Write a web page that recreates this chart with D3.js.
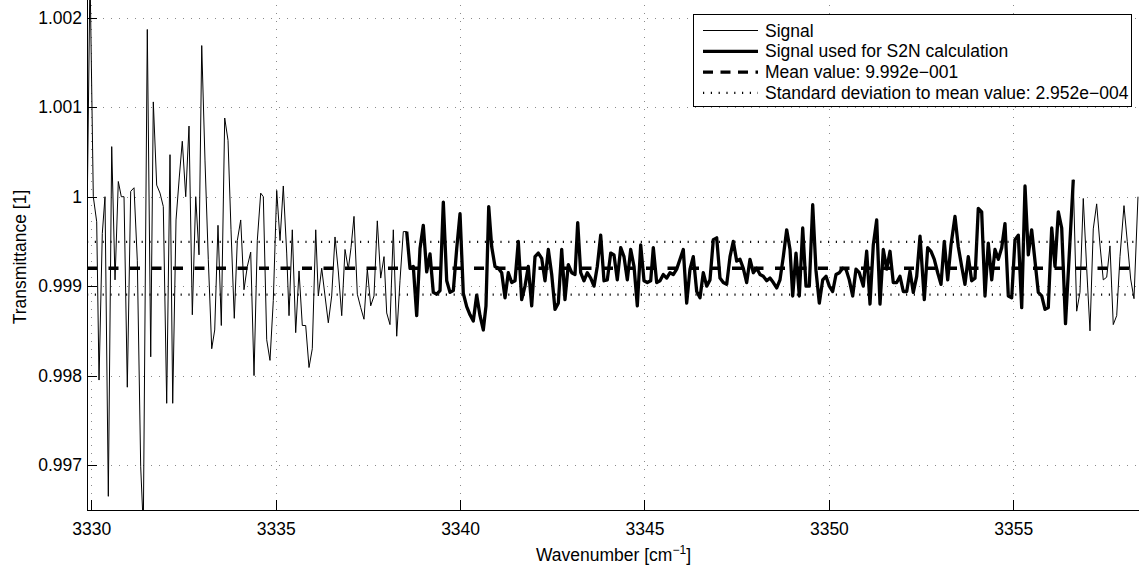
<!DOCTYPE html>
<html><head><meta charset="utf-8">
<script src="https://cdn.jsdelivr.net/npm/d3@7"></script>
<style>
body{margin:0;background:#fff}
svg{display:block}
text{font-family:"Liberation Sans",Arial,Helvetica,sans-serif;fill:#000}
</style>
</head><body>
<svg id="chart" width="1139" height="569"></svg>
<script>
// ---------------- data ----------------
const wavenumber = [
3329.892,3329.965,3330.054,3330.146,3330.209,3330.298,3330.371,3330.461,3330.553,3330.643,
3330.732,3330.813,3330.887,3330.976,3331.068,3331.158,3331.247,3331.339,3331.410,3331.518,
3331.611,3331.681,3331.773,3331.863,3331.952,3332.044,3332.134,3332.207,3332.297,3332.386,
3332.467,3332.560,3332.649,3332.739,3332.831,3332.920,3332.994,3333.083,3333.172,3333.265,
3333.346,3333.435,3333.525,3333.617,3333.707,3333.788,3333.877,3333.959,3334.051,3334.140,
3334.230,3334.322,3334.412,3334.501,3334.593,3334.664,3334.756,3334.845,3334.935,3335.027,
3335.117,3335.206,3335.298,3335.361,3335.450,3335.542,3335.632,3335.721,3335.813,3335.903,
3335.992,3336.085,3336.155,3336.247,3336.337,3336.426,3336.518,3336.608,3336.697,3336.790,
3336.879,3336.969,3337.042,3337.123,3337.213,3337.305,3337.394,3337.484,3337.576,3337.665,
3337.755,3337.847,3337.937,3338.010,3338.099,3338.189,3338.281,3338.370,3338.460,3338.552,
3338.642,3338.731,3338.823,3338.913,3339.002,3339.094,3339.184,3339.273,3339.366,3339.455,
3339.545,3339.637,3339.726,3339.816,3339.908,3339.998,3340.087,3340.179,3340.269,3340.358,
3340.450,3340.540,3340.629,3340.702,3340.776,3340.857,3340.946,3341.036,3341.128,3341.218,
3341.307,3341.399,3341.489,3341.578,3341.670,3341.760,3341.849,3341.941,3342.031,3342.120,
3342.213,3342.302,3342.392,3342.484,3342.573,3342.663,3342.755,3342.844,3342.934,3343.026,
3343.116,3343.189,3343.270,3343.359,3343.449,3343.541,3343.631,3343.720,3343.812,3343.902,
3343.991,3344.084,3344.173,3344.262,3344.355,3344.444,3344.534,3344.626,3344.716,3344.805,
3344.897,3344.987,3345.076,3345.168,3345.239,3345.331,3345.420,3345.510,3345.602,3345.692,
3345.781,3345.873,3345.963,3346.052,3346.144,3346.234,3346.323,3346.416,3346.505,3346.594,
3346.687,3346.776,3346.866,3346.958,3347.047,3347.137,3347.229,3347.319,3347.408,3347.500,
3347.590,3347.679,3347.771,3347.861,3347.950,3348.043,3348.132,3348.221,3348.314,3348.403,
3348.493,3348.585,3348.674,3348.764,3348.856,3348.946,3349.019,3349.108,3349.198,3349.290,
3349.379,3349.469,3349.561,3349.651,3349.740,3349.832,3349.922,3350.011,3350.103,3350.193,
3350.282,3350.374,3350.464,3350.553,3350.645,3350.735,3350.824,3350.933,3351.025,3351.115,
3351.204,3351.296,3351.386,3351.475,3351.568,3351.657,3351.746,3351.839,3351.928,3352.018,
3352.110,3352.199,3352.289,3352.381,3352.471,3352.587,3352.679,3352.769,3352.858,3352.950,
3353.040,3353.129,3353.222,3353.311,3353.419,3353.509,3353.601,3353.690,3353.780,3353.872,
3353.962,3354.051,3354.143,3354.233,3354.322,3354.415,3354.504,3354.594,3354.686,3354.775,
3354.865,3354.957,3355.046,3355.136,3355.228,3355.318,3355.407,3355.499,3355.589,3355.678,
3355.771,3355.860,3355.949,3356.042,3356.131,3356.221,3356.313,3356.416,3356.524,3356.627,
3356.719,3356.808,3356.898,3356.990,3357.080,3357.169,3357.261,3357.351,3357.440,3357.533,
3357.622,3357.711,3357.804,3357.893,3358.002,3358.091,3358.183,3358.273,3358.381
];
const transmittance = [
1.00000,1.00250,1.00000,0.99972,0.99795,0.99959,1.00000,0.99665,1.00056,0.99907,
1.00017,1.00000,1.00000,0.99787,1.00006,1.00010,0.99929,0.99698,0.99630,1.00187,
0.99821,1.00106,1.00013,1.00004,0.99989,0.99769,1.00047,0.99769,0.99974,1.00022,
1.00062,1.00000,1.00079,0.99868,1.00000,0.99935,1.00169,1.00040,0.99930,0.99830,
0.99851,0.99968,0.99856,1.00088,1.00063,0.99963,0.99864,0.99951,0.99974,0.99896,
0.99922,0.99938,0.99800,0.99951,1.00004,1.00000,0.99840,0.99817,0.99884,1.00007,
0.99951,1.00012,0.99937,0.99867,0.99963,0.99848,0.99917,0.99856,0.99856,0.99809,
0.99830,0.99963,0.99889,0.99920,0.99889,0.99859,0.99889,0.99955,0.99917,0.99867,
0.99941,0.99919,0.99943,0.99978,0.99891,0.99876,0.99863,0.99919,0.99878,0.99889,
0.99973,0.99909,0.99933,0.99870,0.99857,0.99963,0.99844,0.99906,0.99961,0.99961,
0.99920,0.99922,0.99867,0.99942,0.99968,0.99916,0.99936,0.99893,0.99891,0.99895,
0.99994,0.99906,0.99893,0.99895,0.99942,0.99981,0.99892,0.99877,0.99868,0.99861,
0.99890,0.99867,0.99851,0.99878,0.99989,0.99944,0.99922,0.99920,0.99915,0.99887,
0.99915,0.99904,0.99906,0.99950,0.99885,0.99900,0.99922,0.99878,0.99933,0.99937,
0.99931,0.99906,0.99941,0.99913,0.99874,0.99881,0.99941,0.99885,0.99924,0.99915,
0.99913,0.99971,0.99915,0.99906,0.99915,0.99909,0.99900,0.99922,0.99957,0.99906,
0.99907,0.99937,0.99935,0.99907,0.99943,0.99933,0.99907,0.99941,0.99922,0.99878,
0.99946,0.99906,0.99904,0.99906,0.99943,0.99904,0.99906,0.99913,0.99909,0.99915,
0.99913,0.99919,0.99930,0.99941,0.99881,0.99919,0.99933,0.99894,0.99887,0.99915,
0.99900,0.99907,0.99952,0.99954,0.99909,0.99904,0.99902,0.99933,0.99950,0.99928,
0.99930,0.99920,0.99904,0.99930,0.99915,0.99920,0.99913,0.99911,0.99906,0.99909,
0.99904,0.99898,0.99907,0.99933,0.99963,0.99941,0.99889,0.99937,0.99889,0.99965,
0.99900,0.99900,0.99991,0.99917,0.99881,0.99907,0.99911,0.99900,0.99894,0.99913,
0.99915,0.99920,0.99919,0.99907,0.99889,0.99919,0.99915,0.99900,0.99939,0.99880,
0.99946,0.99974,0.99880,0.99941,0.99919,0.99939,0.99904,0.99904,0.99911,0.99894,
0.99894,0.99917,0.99893,0.99911,0.99956,0.99885,0.99943,0.99939,0.99930,0.99915,
0.99902,0.99950,0.99907,0.99946,0.99978,0.99944,0.99922,0.99902,0.99933,0.99906,
0.99909,0.99987,0.99983,0.99889,0.99948,0.99907,0.99941,0.99930,0.99943,0.99970,
0.99889,0.99887,0.99952,0.99957,0.99876,1.00012,0.99935,0.99963,0.99928,0.99893,
0.99889,0.99874,0.99876,0.99965,0.99922,0.99983,0.99965,0.99858,0.99940,1.00019,
0.99872,0.99893,0.99998,0.99920,0.99850,0.99964,0.99992,0.99946,0.99907,0.99910,
0.99945,0.99857,0.99867,0.99933,0.99990,0.99950,0.99908,0.99886,1.00000
];
const s2nRange = [3338.55, 3356.63];
const meanValue = 0.9992;
const stdValue = 0.0002952;
const xDomain = [3329.883, 3358.436];
const yDomain = [0.996497, 1.002233];
const xTicks = [3330, 3335, 3340, 3345, 3350, 3355];
const yTicks = [0.997, 0.998, 0.999, 1.000, 1.001, 1.002];
const yTickLabels = ["0.997", "0.998", "0.999", "1", "1.001", "1.002"];
const legendLabels = [
  "Signal",
  "Signal used for S2N calculation",
  "Mean value: 9.992e\u2212001",
  "Standard deviation to mean value: 2.952e\u2212004"
];

// ---------------- drawing ----------------
const FONT = 17.5;
const svg = d3.select("#chart");
const plot = {left: 87, right: 1140, top: -3, bottom: 510};

const x = d3.scaleLinear().domain(xDomain).range([plot.left, plot.right]);
const y = d3.scaleLinear().domain(yDomain).range([plot.bottom, plot.top]);

svg.append("rect").attr("width", 1139).attr("height", 569).attr("fill", "#fff");

svg.append("defs").append("clipPath").attr("id", "clip")
  .append("rect").attr("x", plot.left).attr("y", plot.top)
  .attr("width", plot.right - plot.left).attr("height", plot.bottom - plot.top);

// grid
const grid = svg.append("g").attr("stroke", "#8a8a8a").attr("stroke-width", 1)
  .attr("stroke-dasharray", "1 7").attr("shape-rendering", "crispEdges");
grid.selectAll(".gx").data(xTicks).join("line")
  .attr("x1", d => Math.round(x(d)) + 0.5).attr("x2", d => Math.round(x(d)) + 0.5)
  .attr("y1", plot.bottom).attr("y2", plot.top);
grid.selectAll(".gy").data(yTicks).join("line")
  .attr("y1", d => Math.round(y(d)) + 0.5).attr("y2", d => Math.round(y(d)) + 0.5)
  .attr("x1", plot.left).attr("x2", plot.right);

const data = wavenumber.map((w, i) => ({w, t: transmittance[i]}));
const used = data.filter(d => d.w >= s2nRange[0] && d.w <= s2nRange[1]);
const line = d3.line().x(d => x(d.w)).y(d => y(d.t));

const g = svg.append("g").attr("clip-path", "url(#clip)");
g.append("path").datum(data).attr("d", line)
  .attr("fill", "none").attr("stroke", "#000").attr("stroke-width", 1);
g.append("path").datum(used).attr("d", line)
  .attr("fill", "none").attr("stroke", "#000").attr("stroke-width", 3.3)
  .attr("stroke-linejoin", "round");
g.append("line").attr("x1", plot.left).attr("x2", plot.right)
  .attr("y1", y(meanValue)).attr("y2", y(meanValue))
  .attr("stroke", "#000").attr("stroke-width", 3.3).attr("stroke-dasharray", "10 11.5");
[meanValue + stdValue, meanValue - stdValue].forEach(v => {
  g.append("line").attr("x1", plot.left).attr("x2", plot.right)
    .attr("y1", y(v)).attr("y2", y(v))
    .attr("stroke", "#111").attr("stroke-width", 2.4).attr("stroke-dasharray", "1.2 6.6");
});

// axes
const xAxis = d3.axisBottom(x).tickValues(xTicks).tickFormat(d3.format("d"))
  .tickSize(-10).tickSizeOuter(0).tickPadding(12.5);
const gx = svg.append("g").attr("transform", `translate(0,${plot.bottom})`).call(xAxis);
const yAxis = d3.axisLeft(y).tickValues(yTicks).tickFormat((d, i) => yTickLabels[i])
  .tickSize(-10).tickSizeOuter(0).tickPadding(5);
const gy = svg.append("g").attr("transform", `translate(${plot.left},0)`).call(yAxis);
[gx, gy].forEach(a => {
  a.selectAll("path,line").attr("stroke", "#000").attr("shape-rendering", "crispEdges");
  a.selectAll("text").attr("font-size", FONT).attr("font-family", null).attr("fill", "#000");
});

// axis titles
svg.append("text").attr("transform", "translate(20,257) rotate(-90)")
  .attr("text-anchor", "middle").attr("dy", "0.35em").attr("font-size", FONT)
  .text("Transmittance [1]");
const xt = svg.append("text").attr("x", 613.5).attr("y", 561)
  .attr("text-anchor", "middle").attr("font-size", FONT);
xt.append("tspan").text("Wavenumber [cm");
xt.append("tspan").attr("dy", -7).attr("font-size", 12).text("\u22121");
xt.append("tspan").attr("dy", 7).text("]");

// legend
const lg = svg.append("g");
lg.append("rect").attr("x", 693.5).attr("y", 14.5).attr("width", 438).attr("height", 92)
  .attr("fill", "#fff").attr("stroke", "#000").attr("stroke-width", 1);
const legendStyles = [
  {w: 1, dash: null},
  {w: 3.3, dash: null},
  {w: 3.3, dash: "10 7.5"},
  {w: 2.4, dash: "1.2 6.6"}
];
legendLabels.forEach((lab, i) => {
  const cy = 30.5 + i * 20.8;
  const st = legendStyles[i];
  lg.append("line").attr("x1", 703).attr("x2", 758).attr("y1", cy).attr("y2", cy)
    .attr("stroke", "#000").attr("stroke-width", st.w)
    .attr("stroke-dasharray", st.dash);
  lg.append("text").attr("x", 765).attr("y", cy).attr("dy", "0.35em")
    .attr("font-size", FONT).text(lab);
});
</script>
</body></html>
